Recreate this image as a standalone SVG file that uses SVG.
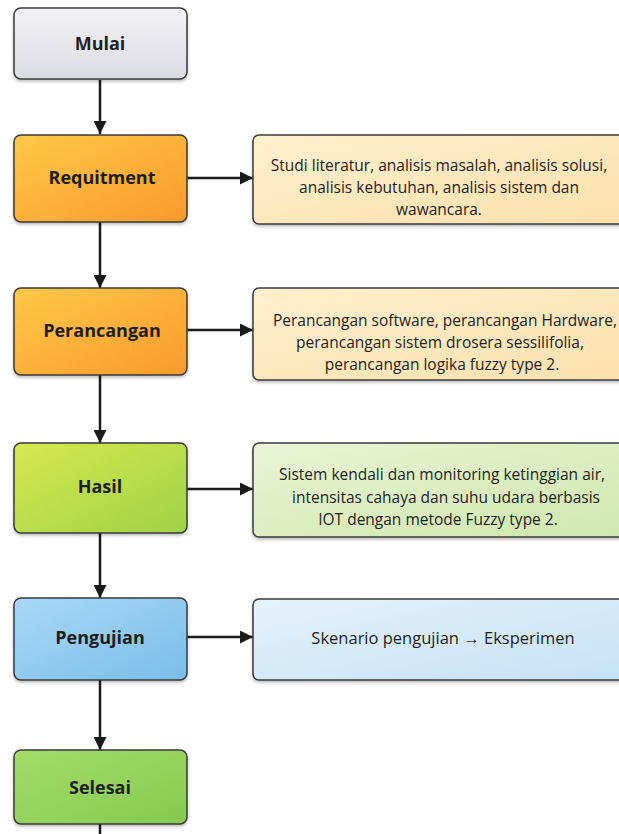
<svg xmlns="http://www.w3.org/2000/svg" width="619" height="834" viewBox="0 0 619 834">
<defs>
<linearGradient id="gGray" x1="0" y1="0" x2="0" y2="1"><stop offset="0" stop-color="#f1f1f5"/><stop offset="1" stop-color="#dcdce3"/></linearGradient>
<linearGradient id="gOrange" x1="0" y1="0" x2="1" y2="1"><stop offset="0" stop-color="#ffc948"/><stop offset="1" stop-color="#f89a2c"/></linearGradient>
<linearGradient id="gLime" x1="0" y1="0" x2="1" y2="1"><stop offset="0" stop-color="#d7e850"/><stop offset="1" stop-color="#9fd247"/></linearGradient>
<linearGradient id="gBlue" x1="0" y1="0" x2="1" y2="1"><stop offset="0" stop-color="#a9d8f6"/><stop offset="1" stop-color="#7bbde9"/></linearGradient>
<linearGradient id="gGreen" x1="0" y1="0" x2="1" y2="1"><stop offset="0" stop-color="#a4dd6c"/><stop offset="1" stop-color="#86c94f"/></linearGradient>
<linearGradient id="gPeach" x1="0" y1="0" x2="1" y2="1"><stop offset="0" stop-color="#fff0cf"/><stop offset="1" stop-color="#fbe0ac"/></linearGradient>
<linearGradient id="gPale" x1="0" y1="0" x2="1" y2="1"><stop offset="0" stop-color="#eaf4d6"/><stop offset="1" stop-color="#cfe7ad"/></linearGradient>
<linearGradient id="gSky" x1="0" y1="0" x2="1" y2="1"><stop offset="0" stop-color="#e6f2fb"/><stop offset="1" stop-color="#c5e1f5"/></linearGradient>
<filter id="sh" x="-10%" y="-10%" width="120%" height="130%"><feDropShadow dx="0" dy="2" stdDeviation="1.5" flood-color="#000" flood-opacity="0.25"/></filter>
<marker id="ah" viewBox="0 0 12 12" refX="12" refY="6" markerWidth="13" markerHeight="13" markerUnits="userSpaceOnUse" orient="auto"><path d="M0,0 L12,6 L0,12 z" fill="#1a1a1a"/></marker>
</defs>
<style>
.box{stroke:#3a3a3a;stroke-width:1.5;filter:url(#sh)}
.lbl{font-family:"Open Sans","Noto Sans",sans-serif;font-weight:bold;font-size:18px;fill:#1e1e1e;text-anchor:middle;dominant-baseline:central}
.txt{font-family:"Open Sans","Noto Sans",sans-serif;font-size:15.5px;fill:#1e1e1e;text-anchor:middle;dominant-baseline:central}
.con{stroke:#1a1a1a;stroke-width:2.5;fill:none}
</style>
<rect width="619" height="834" fill="#ffffff"/>
<g id="connectors">
<line class="con" x1="100" y1="80" x2="100" y2="134" marker-end="url(#ah)"/>
<line class="con" x1="100" y1="222" x2="100" y2="288" marker-end="url(#ah)"/>
<line class="con" x1="100" y1="375" x2="100" y2="443" marker-end="url(#ah)"/>
<line class="con" x1="100" y1="533" x2="100" y2="598" marker-end="url(#ah)"/>
<line class="con" x1="100" y1="680" x2="100" y2="750" marker-end="url(#ah)"/>
<line class="con" x1="100" y1="824" x2="100" y2="834"/>
<line class="con" x1="187" y1="178" x2="253" y2="178" marker-end="url(#ah)"/>
<line class="con" x1="187" y1="330" x2="253" y2="330" marker-end="url(#ah)"/>
<line class="con" x1="187" y1="489" x2="253" y2="489" marker-end="url(#ah)"/>
<line class="con" x1="187" y1="637" x2="253" y2="637" marker-end="url(#ah)"/>
</g>
<g id="mulai"><rect class="box" x="14" y="8" width="173" height="71" rx="7" fill="url(#gGray)"/><text class="lbl" x="100" y="43">Mulai</text></g>
<g id="requitment"><rect class="box" x="14" y="135" width="173" height="87" rx="7" fill="url(#gOrange)"/><text class="lbl" x="102" y="177">Requitment</text></g>
<g id="perancangan"><rect class="box" x="14" y="288" width="173" height="87" rx="7" fill="url(#gOrange)"/><text class="lbl" x="102" y="330">Perancangan</text></g>
<g id="hasil"><rect class="box" x="14" y="443" width="173" height="90" rx="7" fill="url(#gLime)"/><text class="lbl" x="100" y="486">Hasil</text></g>
<g id="pengujian"><rect class="box" x="14" y="598" width="173" height="82" rx="7" fill="url(#gBlue)"/><text class="lbl" x="100" y="637">Pengujian</text></g>
<g id="selesai"><rect class="box" x="14" y="750" width="173" height="74" rx="7" fill="url(#gGreen)"/><text class="lbl" x="100" y="787">Selesai</text></g>
<g id="detail-requitment"><rect class="box" x="253" y="135" width="380" height="89" rx="6" fill="url(#gPeach)"/>
<text class="txt" x="439" y="165">Studi literatur, analisis masalah, analisis solusi,</text>
<text class="txt" x="439" y="187">analisis kebutuhan, analisis sistem dan</text>
<text class="txt" x="439" y="209">wawancara.</text></g>
<g id="detail-perancangan"><rect class="box" x="253" y="288" width="380" height="92" rx="6" fill="url(#gPeach)"/>
<text class="txt" x="445" y="320">Perancangan software, perancangan Hardware,</text>
<text class="txt" x="440" y="342">perancangan sistem drosera sessilifolia,</text>
<text class="txt" x="442" y="364">perancangan logika fuzzy type 2.</text></g>
<g id="detail-hasil"><rect class="box" x="253" y="443" width="380" height="94" rx="6" fill="url(#gPale)"/>
<text class="txt" x="442" y="474">Sistem kendali dan monitoring ketinggian air,</text>
<text class="txt" x="446" y="497">intensitas cahaya dan suhu udara berbasis</text>
<text class="txt" x="438" y="519">IOT dengan metode Fuzzy type 2.</text></g>
<g id="detail-pengujian"><rect class="box" x="253" y="599" width="380" height="81" rx="6" fill="url(#gSky)"/>
<text class="txt" x="443" y="637" style="font-size:16.5px">Skenario pengujian → Eksperimen</text></g>
</svg>
